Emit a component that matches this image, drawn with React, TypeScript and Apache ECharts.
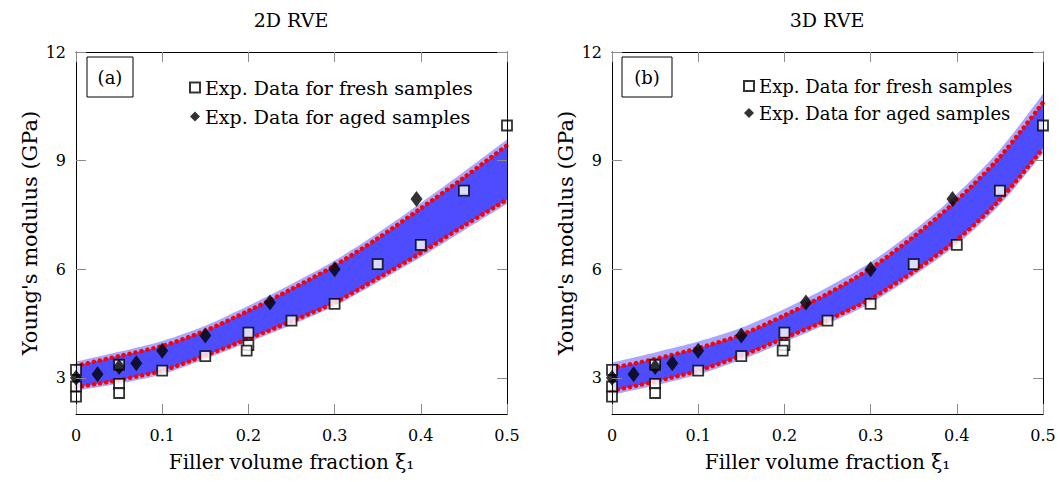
import React, { useEffect, useRef } from "react";
import * as echarts from "echarts";

// ---------- data ----------
const xGrid = [0, 0.05, 0.1, 0.15, 0.2, 0.25, 0.3, 0.35, 0.4, 0.45, 0.5];

// red dotted bounds, 2D RVE
const upper2D = [3.33, 3.6, 3.88, 4.3, 4.85, 5.45, 6.1, 6.85, 7.68, 8.53, 9.42];
const lower2D = [2.74, 2.94, 3.2, 3.62, 4.08, 4.56, 5.08, 5.75, 6.45, 7.2, 7.92];
// blue cloud extent, 2D RVE
const cloudHi2D = [3.45, 3.72, 4.02, 4.44, 4.99, 5.59, 6.24, 7.0, 7.83, 8.69, 9.58];
const cloudLo2D = [2.64, 2.84, 3.1, 3.52, 3.98, 4.46, 4.98, 5.64, 6.33, 7.07, 7.8];

// red dotted bounds, 3D RVE
const upper3D = [3.27, 3.52, 3.82, 4.19, 4.72, 5.32, 6.02, 6.9, 7.9, 9.1, 10.6];
const lower3D = [2.64, 2.9, 3.2, 3.61, 4.1, 4.6, 5.18, 5.94, 6.81, 7.92, 9.34];
// blue cloud extent, 3D RVE
const cloudHi3D = [3.42, 3.7, 4.0, 4.38, 4.9, 5.5, 6.19, 7.07, 8.08, 9.3, 10.85];
const cloudLo3D = [2.53, 2.79, 3.09, 3.5, 3.98, 4.49, 5.06, 5.82, 6.68, 7.78, 9.2];

// experimental data
const freshX = [0, 0, 0, 0.05, 0.05, 0.05, 0.1, 0.15, 0.2, 0.2, 0.198, 0.25, 0.3, 0.35, 0.4, 0.45, 0.5];
const freshY = [3.22, 2.76, 2.48, 3.36, 2.83, 2.58, 3.2, 3.6, 4.25, 3.9, 3.75, 4.58, 5.04, 6.14, 6.67, 8.17, 9.97];
const agedX = [0, 0.025, 0.05, 0.07, 0.1, 0.15, 0.225, 0.3, 0.395];
const agedY = [3.0, 3.1, 3.3, 3.4, 3.75, 4.17, 5.08, 6.0, 7.94];

const yTicks = [3, 6, 9, 12];
const panelTitles = ["2D RVE", "3D RVE"];
const panelTags = ["(a)", "(b)"];
const freshName = "Exp. Data for fresh samples";
const agedName = "Exp. Data for aged samples";

const FONT = "DejaVu Serif";
const SMOOTH = 0.3;
const CORE = "#4d4dff";
const FRINGE = "#a7a7ff";

// area under a smoothed curve down to the bottom of the axis
function areaUnder(ai: number, vals: number[], color: string, z: number) {
  return {
    type: "line",
    xAxisIndex: ai * 2,
    yAxisIndex: ai * 2,
    silent: true,
    showSymbol: false,
    smooth: SMOOTH,
    z,
    data: xGrid.map((x, i) => [x, vals[i]]),
    lineStyle: { width: 0, opacity: 0 },
    areaStyle: { color, opacity: 1, origin: "start" },
  };
}

function boundLine(ai: number, vals: number[]) {
  return {
    type: "line",
    xAxisIndex: ai * 2,
    yAxisIndex: ai * 2,
    silent: true,
    z: 4,
    showSymbol: false,
    smooth: SMOOTH,
    data: xGrid.map((x, i) => [x, vals[i]]),
    lineStyle: { color: "#ff0000", width: 4.5, type: [0.1, 6], cap: "round" },
  };
}

function panelSeries(ai: number, up: number[], lo: number[], cHi: number[], cLo: number[]) {
  return [
    areaUnder(ai, cHi, FRINGE, 1),
    areaUnder(ai, up, CORE, 1.1),
    areaUnder(ai, lo, FRINGE, 1.2),
    areaUnder(ai, cLo, "#ffffff", 1.3),
    boundLine(ai, up),
    boundLine(ai, lo),
    {
      type: "scatter",
      name: freshName,
      xAxisIndex: ai * 2,
      yAxisIndex: ai * 2,
      z: 5,
      symbol: "rect",
      symbolSize: 10,
      data: freshX.map((x, i) => [x, freshY[i]]),
      itemStyle: { color: "#ffffff", borderColor: "#000000", borderWidth: 1.8 },
    },
    {
      type: "scatter",
      name: agedName,
      xAxisIndex: ai * 2,
      yAxisIndex: ai * 2,
      z: 6,
      symbol: "diamond",
      symbolSize: [12, 16],
      data: agedX.map((x, i) => [x, agedY[i]]),
      itemStyle: { color: "#000000" },
    },
  ];
}

const tickStyle = { show: true, inside: true, length: 10, lineStyle: { color: "#8a8a8a", width: 1 } };
const axisLineStyle = { show: true, onZero: false, lineStyle: { color: "#000", width: 1 } };

function xAxes(gi: number) {
  return [
    {
      type: "value",
      gridIndex: gi,
      z: 10,
      min: 0,
      max: 0.5,
      interval: 0.1,
      position: "bottom",
      axisLine: axisLineStyle,
      axisTick: tickStyle,
      splitLine: { show: false },
      axisLabel: { margin: 13, fontFamily: FONT, fontSize: 16, color: "#000" },
      name: "Filler volume fraction ξ₁",
      nameLocation: "middle",
      nameGap: 38,
      nameTextStyle: { fontFamily: FONT, fontSize: 20, color: "#000" },
    },
    {
      type: "value",
      gridIndex: gi,
      z: 10,
      min: 0,
      max: 0.5,
      interval: 0.1,
      position: "top",
      axisLine: axisLineStyle,
      axisTick: tickStyle,
      splitLine: { show: false },
      axisLabel: { show: false },
    },
  ];
}

function yAxes(gi: number) {
  return [
    {
      type: "value",
      gridIndex: gi,
      z: 10,
      min: 2,
      max: 12,
      position: "left",
      axisLine: axisLineStyle,
      axisTick: { ...tickStyle, customValues: yTicks },
      splitLine: { show: false },
      axisLabel: { customValues: yTicks, margin: 10, fontFamily: FONT, fontSize: 16, color: "#000" },
      name: "Young's modulus (GPa)",
      nameLocation: "middle",
      nameGap: 36,
      nameTextStyle: { fontFamily: FONT, fontSize: 21, color: "#000" },
    },
    {
      type: "value",
      gridIndex: gi,
      z: 10,
      min: 2,
      max: 12,
      position: "right",
      axisLine: axisLineStyle,
      axisTick: { ...tickStyle, customValues: yTicks },
      splitLine: { show: false },
      axisLabel: { show: false },
    },
  ];
}

export default function App() {
  const ref = useRef<HTMLDivElement>(null);
  useEffect(() => {
    document.body.style.margin = "0";
    if (!ref.current) return;
    const chart = echarts.init(ref.current, null, { renderer: "svg" });
    const option: any = {
      animation: false,
      backgroundColor: "#ffffff",
      grid: [
        { left: 76, top: 52, width: 431, height: 362 },
        { left: 612, top: 52, width: 431, height: 362 },
      ],
      xAxis: [...xAxes(0), ...xAxes(1)],
      yAxis: [...yAxes(0), ...yAxes(1)],
      legend: [
        {
          data: [freshName, agedName],
          orient: "vertical",
          left: 184,
          top: 73,
          itemWidth: 10,
          itemHeight: 10,
          itemGap: 10,
          selectedMode: false,
          textStyle: { fontFamily: FONT, fontSize: 19, color: "#000", lineHeight: 19 },
        },
        {
          data: [freshName, agedName],
          orient: "vertical",
          left: 738,
          top: 72,
          itemWidth: 10,
          itemHeight: 10,
          itemGap: 9,
          selectedMode: false,
          textStyle: { fontFamily: FONT, fontSize: 18, color: "#000", lineHeight: 18 },
        },
      ],
      graphic: [
        { type: "text", x: 291, y: 20, style: { text: panelTitles[0], align: "center", verticalAlign: "middle", font: `19px "${FONT}"`, fill: "#000" } },
        { type: "text", x: 827, y: 20, style: { text: panelTitles[1], align: "center", verticalAlign: "middle", font: `19px "${FONT}"`, fill: "#000" } },
        { type: "rect", shape: { x: 87, y: 57, width: 46, height: 40 }, style: { fill: "#fff", stroke: "#000", lineWidth: 1 }, z: 10 },
        { type: "text", x: 110, y: 77, style: { text: panelTags[0], align: "center", verticalAlign: "middle", font: `18px "${FONT}"`, fill: "#000" }, z: 11 },
        { type: "rect", shape: { x: 622, y: 57, width: 50, height: 40 }, style: { fill: "#fff", stroke: "#000", lineWidth: 1 }, z: 10 },
        { type: "text", x: 647, y: 77, style: { text: panelTags[1], align: "center", verticalAlign: "middle", font: `18px "${FONT}"`, fill: "#000" }, z: 11 },
      ],
      series: [
        ...panelSeries(0, upper2D, lower2D, cloudHi2D, cloudLo2D),
        ...panelSeries(1, upper3D, lower3D, cloudHi3D, cloudLo3D),
      ],
    };
    chart.setOption(option);
    return () => chart.dispose();
  }, []);
  return <div ref={ref} style={{ width: 1060, height: 482 }} />;
}
